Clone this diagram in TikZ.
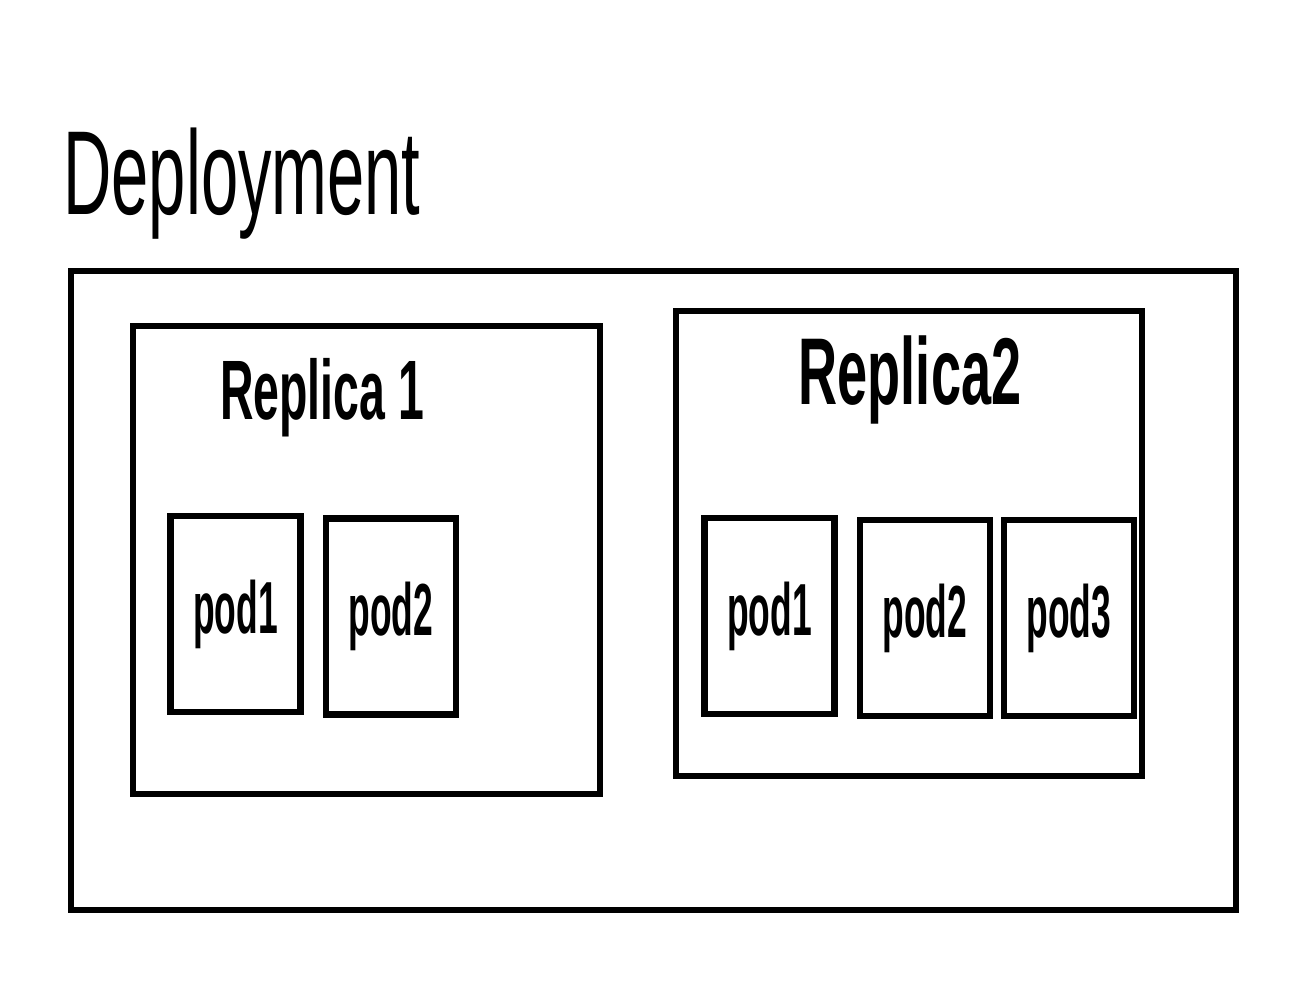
\documentclass[tikz,border=0pt]{standalone}
\usepackage{fontspec}
\setmainfont{Liberation Sans}
\usepackage{tikz}

\newcommand{\narrow}[2]{\scalebox{#1}[1]{#2}}

\begin{document}
\begin{tikzpicture}[
    box/.style={draw, line width=1.8pt, inner sep=0pt},
    pod/.style={box, minimum width=1.30cm, minimum height=1.96cm,
                font=\fontsize{21}{21}\selectfont\bfseries},
    title/.style={font=\fontsize{34}{34}\selectfont, anchor=base},
    label/.style={font=\fontsize{24}{24}\selectfont\bfseries, anchor=base}]
  \useasboundingbox (0,0) rectangle (12.95,-10);
  % Deployment
  \node[title] (deploytxt) at (2.42,-2.15) {\narrow{0.56}{Deployment}};
  \node[box, minimum width=11.65cm, minimum height=6.39cm] (deploy) at (6.535,-5.905) {};
  % Replica 1
  \node[box, minimum width=4.67cm, minimum height=4.68cm] (rep1) at (3.665,-5.60) {};
  \node[label] (rep1txt) at (3.22,-4.20) {\narrow{0.55}{Replica 1}};
  \node[pod] (rep1pod1) at (2.355,-6.14) {\narrow{0.48}{pod1}};
  \node[pod] (rep1pod2) at (3.91,-6.165) {\narrow{0.48}{pod2}};
  % Replica 2
  \node[box, minimum width=4.66cm, minimum height=4.65cm] (rep2) at (9.09,-5.435) {};
  \node[label, font=\fontsize{27}{27}\selectfont\bfseries] (rep2txt) at (9.10,-4.05) {\narrow{0.57}{Replica2}};
  \node[pod] (rep2pod1) at (7.695,-6.16) {\narrow{0.48}{pod1}};
  \node[pod] (rep2pod2) at (9.25,-6.18) {\narrow{0.48}{pod2}};
  \node[pod] (rep2pod3) at (10.69,-6.18) {\narrow{0.48}{pod3}};
\end{tikzpicture}
\end{document}
